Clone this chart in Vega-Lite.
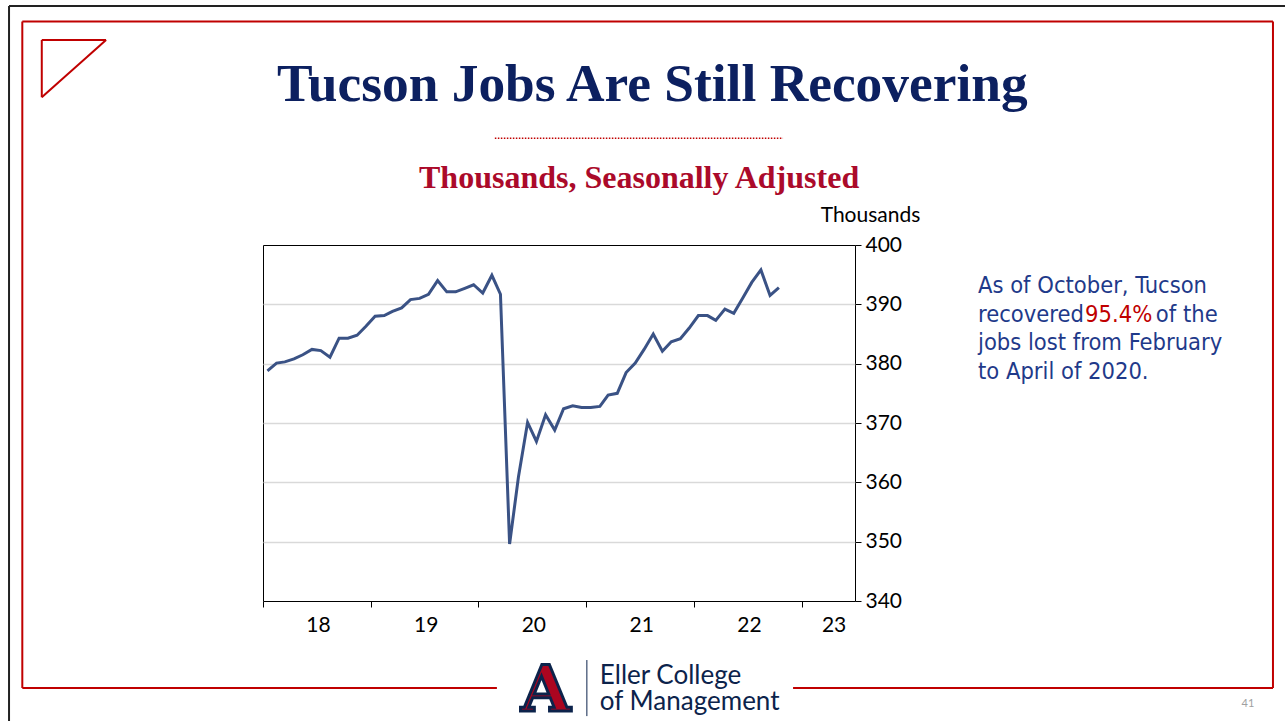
{
  "$schema": "https://vega.github.io/schema/vega-lite/v6.json",
  "autosize": {"type": "none"},
  "width": 592,
  "height": 356,
  "padding": {"left": 263, "top": 245, "right": 430, "bottom": 120},
  "background": "white",
  "config": {
    "view": {"stroke": "black", "strokeWidth": 1},
    "font": "Lato"
  },
  "datasets": {
    "jobs": [
      {"date": "2018-01-16", "jobs": 378.8},
      {"date": "2018-02-16", "jobs": 380.1},
      {"date": "2018-03-16", "jobs": 380.3},
      {"date": "2018-04-16", "jobs": 380.8},
      {"date": "2018-05-16", "jobs": 381.5},
      {"date": "2018-06-16", "jobs": 382.4},
      {"date": "2018-07-16", "jobs": 382.2},
      {"date": "2018-08-16", "jobs": 381.1},
      {"date": "2018-09-16", "jobs": 384.3},
      {"date": "2018-10-16", "jobs": 384.3},
      {"date": "2018-11-16", "jobs": 384.8},
      {"date": "2018-12-16", "jobs": 386.3},
      {"date": "2019-01-16", "jobs": 388.0},
      {"date": "2019-02-16", "jobs": 388.1},
      {"date": "2019-03-16", "jobs": 388.8},
      {"date": "2019-04-16", "jobs": 389.4},
      {"date": "2019-05-16", "jobs": 390.8},
      {"date": "2019-06-16", "jobs": 391.0},
      {"date": "2019-07-16", "jobs": 391.7},
      {"date": "2019-08-16", "jobs": 394.0},
      {"date": "2019-09-16", "jobs": 392.1},
      {"date": "2019-10-16", "jobs": 392.1},
      {"date": "2019-11-16", "jobs": 392.7},
      {"date": "2019-12-16", "jobs": 393.3},
      {"date": "2020-01-16", "jobs": 391.9},
      {"date": "2020-02-16", "jobs": 394.9},
      {"date": "2020-03-16", "jobs": 391.7},
      {"date": "2020-04-16", "jobs": 349.6},
      {"date": "2020-05-16", "jobs": 360.9},
      {"date": "2020-06-16", "jobs": 370.1},
      {"date": "2020-07-16", "jobs": 366.9},
      {"date": "2020-08-16", "jobs": 371.4},
      {"date": "2020-09-16", "jobs": 368.8},
      {"date": "2020-10-16", "jobs": 372.4},
      {"date": "2020-11-16", "jobs": 372.9},
      {"date": "2020-12-16", "jobs": 372.6},
      {"date": "2021-01-16", "jobs": 372.6},
      {"date": "2021-02-16", "jobs": 372.8},
      {"date": "2021-03-16", "jobs": 374.7},
      {"date": "2021-04-16", "jobs": 375.0},
      {"date": "2021-05-16", "jobs": 378.5},
      {"date": "2021-06-16", "jobs": 380.1},
      {"date": "2021-07-16", "jobs": 382.4},
      {"date": "2021-08-16", "jobs": 385.0},
      {"date": "2021-09-16", "jobs": 382.1},
      {"date": "2021-10-16", "jobs": 383.7},
      {"date": "2021-11-16", "jobs": 384.2},
      {"date": "2021-12-16", "jobs": 386.0},
      {"date": "2022-01-16", "jobs": 388.1},
      {"date": "2022-02-16", "jobs": 388.1},
      {"date": "2022-03-16", "jobs": 387.3},
      {"date": "2022-04-16", "jobs": 389.2},
      {"date": "2022-05-16", "jobs": 388.5},
      {"date": "2022-06-16", "jobs": 391.1},
      {"date": "2022-07-16", "jobs": 393.7},
      {"date": "2022-08-16", "jobs": 395.8},
      {"date": "2022-09-16", "jobs": 391.5},
      {"date": "2022-10-16", "jobs": 392.8}
    ],
    "one": [{}]
  },
  "layer": [
    {
      "data": {"name": "jobs"},
      "mark": {"type": "line", "color": "#3A5285", "strokeWidth": 3, "strokeJoin": "miter"},
      "encoding": {
        "x": {
          "field": "date",
          "type": "temporal",
          "scale": {"domain": [{"year": 2018, "month": 1, "date": 1}, {"year": 2023, "month": 7, "date": 1}]},
          "axis": {
            "orient": "bottom",
            "title": null,
            "values": [
              {"year": 2018, "month": 1, "date": 1},
              {"year": 2019, "month": 1, "date": 1},
              {"year": 2020, "month": 1, "date": 1},
              {"year": 2021, "month": 1, "date": 1},
              {"year": 2022, "month": 1, "date": 1},
              {"year": 2023, "month": 1, "date": 1}
            ],
            "labelExpr": "timeFormat(datum.value, '%y')",
            "labelOffset": {"condition": {"test": "year(datum.value) == 2023", "value": 32}, "value": 55},
            "labelFlush": false,
            "labelOverlap": false,
            "labelFont": "Lato",
            "labelFontSize": 21,
            "labelColor": "black",
            "labelPadding": 7,
            "grid": false,
            "domain": false,
            "tickColor": "black",
            "tickSize": 6
          }
        },
        "y": {
          "field": "jobs",
          "type": "quantitative",
          "scale": {"domain": [340, 400], "nice": false},
          "axis": {
            "orient": "right",
            "values": [340, 350, 360, 370, 380, 390, 400],
            "grid": true,
            "gridColor": {"condition": {"test": "datum.value == 340 || datum.value == 400", "value": "transparent"}, "value": "#d9d9d9"},
            "gridWidth": 1.5,
            "domain": false,
            "tickColor": "black",
            "tickSize": 6,
            "labelFont": "Lato",
            "labelFontSize": 21,
            "labelColor": "black",
            "labelPadding": 4,
            "title": "Thousands",
            "titleFont": "Lato",
            "titleFontSize": 21,
            "titleFontWeight": "normal",
            "titleColor": "black",
            "titleAngle": 0,
            "titleAlign": "center",
            "titleBaseline": "alphabetic",
            "titleX": 15,
            "titleY": -24
          }
        }
      }
    },
    {
      "data": {"values": [{"t": "Tucson Jobs Are Still Recovering"}]},
      "mark": {"type": "text", "align": "center", "baseline": "alphabetic", "font": "Liberation Serif", "fontWeight": "bold", "fontSize": 53.4, "color": "#0C2060"},
      "encoding": {
        "x": {"datum": {"year": 2021, "month": 8, "date": 13}, "type": "temporal"},
        "y": {"datum": 424.32, "type": "quantitative"},
        "text": {"field": "t"}
      }
    },
    {
      "data": {"values": [{"t": "Thousands, Seasonally Adjusted"}]},
      "mark": {"type": "text", "align": "center", "baseline": "alphabetic", "font": "Liberation Serif", "fontWeight": "bold", "fontSize": 32, "color": "#AB0A2A"},
      "encoding": {
        "x": {"datum": {"year": 2021, "month": 6, "date": 29}, "type": "temporal"},
        "y": {"datum": 409.6, "type": "quantitative"},
        "text": {"field": "t"}
      }
    },
    {
      "data": {"name": "one"},
      "mark": {"type": "rule", "color": "#C00000", "strokeWidth": 1.5, "strokeDash": [1.5, 1.5]},
      "encoding": {
        "x": {"datum": {"year": 2020, "month": 2, "date": 26}, "type": "temporal"},
        "x2": {"datum": {"year": 2022, "month": 10, "date": 30}},
        "y": {"datum": 418.0, "type": "quantitative"}
      }
    },
    {
      "data": {"values": [{"t": "As of October, Tucson"}]},
      "mark": {"type": "text", "align": "left", "baseline": "alphabetic", "font": "DejaVu Sans Condensed, DejaVu Sans", "fontSize": 23.5, "color": "#1F3A8A"},
      "encoding": {
        "x": {"datum": {"year": 2024, "month": 8, "date": 21}, "type": "temporal"},
        "y": {"datum": 391.9, "type": "quantitative"},
        "text": {"field": "t"}
      }
    },
    {
      "data": {"values": [{"t": "recovered"}]},
      "mark": {"type": "text", "align": "left", "baseline": "alphabetic", "font": "DejaVu Sans Condensed, DejaVu Sans", "fontSize": 23.5, "color": "#1F3A8A"},
      "encoding": {
        "x": {"datum": {"year": 2024, "month": 8, "date": 21}, "type": "temporal"},
        "y": {"datum": 387.1, "type": "quantitative"},
        "text": {"field": "t"}
      }
    },
    {
      "data": {"values": [{"t": "95.4%"}]},
      "mark": {"type": "text", "align": "left", "baseline": "alphabetic", "font": "DejaVu Sans Condensed, DejaVu Sans", "fontSize": 23.5, "color": "#C00000"},
      "encoding": {
        "x": {"datum": {"year": 2025, "month": 8, "date": 19}, "type": "temporal"},
        "y": {"datum": 387.1, "type": "quantitative"},
        "text": {"field": "t"}
      }
    },
    {
      "data": {"values": [{"t": "of the"}]},
      "mark": {"type": "text", "align": "left", "baseline": "alphabetic", "font": "DejaVu Sans Condensed, DejaVu Sans", "fontSize": 23.5, "color": "#1F3A8A"},
      "encoding": {
        "x": {"datum": {"year": 2026, "month": 4, "date": 16}, "type": "temporal"},
        "y": {"datum": 387.1, "type": "quantitative"},
        "text": {"field": "t"}
      }
    },
    {
      "data": {"values": [{"t": "jobs lost from February\nto April of 2020."}]},
      "mark": {"type": "text", "align": "left", "baseline": "alphabetic", "font": "DejaVu Sans Condensed, DejaVu Sans", "fontSize": 23.5, "color": "#1F3A8A", "lineBreak": "\n", "lineHeight": 28.5},
      "encoding": {
        "x": {"datum": {"year": 2024, "month": 8, "date": 21}, "type": "temporal"},
        "y": {"datum": 382.3, "type": "quantitative"},
        "text": {"field": "t"}
      }
    },
    {
      "data": {"name": "one"},
      "mark": {"type": "rule", "color": "#222222", "strokeWidth": 2},
      "encoding": {
        "x": {"datum": {"year": 2015, "month": 8, "date": 24}, "type": "temporal"},
        "x2": {"datum": {"year": 2028, "month": 6, "date": 1}},
        "y": {"datum": 440.3, "type": "quantitative"}
      }
    },
    {
      "data": {"name": "one"},
      "mark": {"type": "rule", "color": "#222222", "strokeWidth": 2},
      "encoding": {
        "x": {"datum": {"year": 2015, "month": 8, "date": 24}, "type": "temporal"},
        "y": {"datum": 440.3, "type": "quantitative"},
        "y2": {"datum": 315}
      }
    },
    {
      "data": {"name": "one"},
      "mark": {"type": "rule", "color": "#C00000", "strokeWidth": 2},
      "encoding": {
        "x": {"datum": {"year": 2015, "month": 10, "date": 8}, "type": "temporal"},
        "x2": {"datum": {"year": 2027, "month": 5, "date": 18}},
        "y": {"datum": 437.67, "type": "quantitative"}
      }
    },
    {
      "data": {"name": "one"},
      "mark": {"type": "rule", "color": "#C00000", "strokeWidth": 2},
      "encoding": {
        "x": {"datum": {"year": 2015, "month": 10, "date": 8}, "type": "temporal"},
        "y": {"datum": 437.67, "type": "quantitative"},
        "y2": {"datum": 325.33}
      }
    },
    {
      "data": {"name": "one"},
      "mark": {"type": "rule", "color": "#C00000", "strokeWidth": 2},
      "encoding": {
        "x": {"datum": {"year": 2027, "month": 5, "date": 18}, "type": "temporal"},
        "y": {"datum": 437.67, "type": "quantitative"},
        "y2": {"datum": 325.33}
      }
    },
    {
      "data": {"name": "one"},
      "mark": {"type": "rule", "color": "#C00000", "strokeWidth": 2},
      "encoding": {
        "x": {"datum": {"year": 2015, "month": 10, "date": 8}, "type": "temporal"},
        "x2": {"datum": {"year": 2020, "month": 3, "date": 4}},
        "y": {"datum": 325.33, "type": "quantitative"}
      }
    },
    {
      "data": {"name": "one"},
      "mark": {"type": "rule", "color": "#C00000", "strokeWidth": 2},
      "encoding": {
        "x": {"datum": {"year": 2022, "month": 12, "date": 3}, "type": "temporal"},
        "x2": {"datum": {"year": 2027, "month": 5, "date": 18}},
        "y": {"datum": 325.33, "type": "quantitative"}
      }
    },
    {
      "data": {"name": "one"},
      "mark": {"type": "rule", "color": "#C00000", "strokeWidth": 2},
      "encoding": {
        "x": {"datum": {"year": 2015, "month": 12, "date": 13}, "type": "temporal"},
        "x2": {"datum": {"year": 2016, "month": 7, "date": 18}},
        "y": {"datum": 434.55, "type": "quantitative"}
      }
    },
    {
      "data": {"name": "one"},
      "mark": {"type": "rule", "color": "#C00000", "strokeWidth": 2},
      "encoding": {
        "x": {"datum": {"year": 2015, "month": 12, "date": 13}, "type": "temporal"},
        "y": {"datum": 434.55, "type": "quantitative"},
        "y2": {"datum": 424.9}
      }
    },
    {
      "data": {"name": "one"},
      "mark": {"type": "rule", "color": "#C00000", "strokeWidth": 2},
      "encoding": {
        "x": {"datum": {"year": 2016, "month": 7, "date": 18}, "type": "temporal"},
        "x2": {"datum": {"year": 2015, "month": 12, "date": 13}},
        "y": {"datum": 434.55, "type": "quantitative"},
        "y2": {"datum": 424.9}
      }
    },
    {
      "data": {"values": [{"t": "A"}]},
      "mark": {"type": "text", "align": "center", "baseline": "alphabetic", "font": "DejaVu Serif", "fontWeight": "bold", "fontSize": 64, "color": "#AB0520", "stroke": "#0C234B", "strokeWidth": 3},
      "encoding": {
        "x": {"datum": {"year": 2020, "month": 8, "date": 17}, "type": "temporal"},
        "y": {"datum": 321.5, "type": "quantitative"},
        "text": {"field": "t"}
      }
    },
    {
      "data": {"name": "one"},
      "mark": {"type": "rule", "color": "#0C234B", "strokeWidth": 1},
      "encoding": {
        "x": {"datum": {"year": 2021, "month": 1, "date": 3}, "type": "temporal"},
        "y": {"datum": 330.05, "type": "quantitative"},
        "y2": {"datum": 320.6}
      }
    },
    {
      "data": {"values": [{"t": "Eller College\nof Management"}]},
      "mark": {"type": "text", "align": "left", "baseline": "alphabetic", "font": "Lato", "fontSize": 26, "color": "#0C234B", "lineBreak": "\n", "lineHeight": 26},
      "encoding": {
        "x": {"datum": {"year": 2021, "month": 2, "date": 16}, "type": "temporal"},
        "y": {"datum": 326.0, "type": "quantitative"},
        "text": {"field": "t"}
      }
    },
    {
      "data": {"values": [{"t": "41"}]},
      "mark": {"type": "text", "align": "center", "baseline": "alphabetic", "font": "Lato", "fontSize": 11, "color": "#A0A0A0"},
      "encoding": {
        "x": {"datum": {"year": 2027, "month": 2, "date": 22}, "type": "temporal"},
        "y": {"datum": 322.1, "type": "quantitative"},
        "text": {"field": "t"}
      }
    }
  ]
}
